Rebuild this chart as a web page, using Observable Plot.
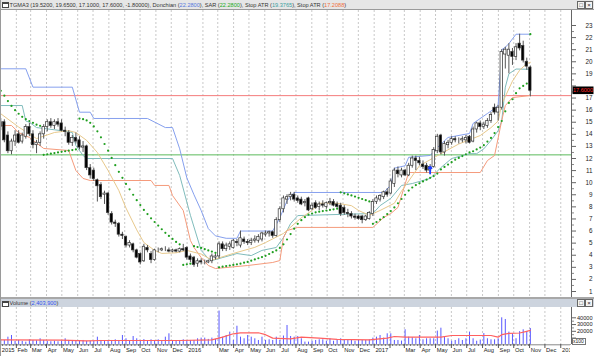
<!DOCTYPE html>
<html><head><meta charset="utf-8">
<script src="https://cdn.jsdelivr.net/npm/d3@7"></script>
<script src="https://cdn.jsdelivr.net/npm/@observablehq/plot@0.6"></script>
<style>
body{margin:0;background:#fff;font-family:"Liberation Sans",Arial,sans-serif;}
#wrap{position:relative;width:594px;height:356px;overflow:hidden;background:#fff;}
.abs{position:absolute;}
.hdr{left:0;width:594px;font-size:5.6px;color:#333;white-space:nowrap;}
.ico{position:absolute;width:5px;height:3px;border:1px solid #444;border-top-width:2px;background:#fff;}
.btn{position:absolute;width:6px;height:6px;border:1px solid #666;background:#f4f4f4;font-size:6px;line-height:6px;text-align:center;color:#222;}
svg{max-width:none;}
</style></head>
<body><div id="wrap">
<div class="abs hdr" style="top:0;height:9px;background:#e6e6e6;border-bottom:1px solid #9a9a9a;">
 <div class="ico" style="left:2px;top:2px;"></div>
 <span class="abs" style="left:9.5px;top:1.5px;">TGMA3 (19.5200, 19.6500, 17.1000, 17.6000, -1.80000), Donchian (<span style="color:#5577dd">22.2800</span>), SAR (<span style="color:#22aa22">22.2800</span>), Stop ATR (<span style="color:#3a9f9f">19.3765</span>), Stop ATR (<span style="color:#f07040">17.2088</span>)</span>
 <div class="btn" style="left:577px;top:1px;">&#9633;</div>
 <div class="btn" style="left:585px;top:1px;">&#215;</div>
</div>
<div id="price" class="abs" style="left:0;top:10px;"></div>
<div class="abs" style="left:0;top:297px;width:594px;height:2px;background:#a8a8a8;"></div>
<div class="abs hdr" style="top:299px;height:8px;background:#cdd4de;">
 <div class="ico" style="left:2px;top:2px;"></div>
 <span class="abs" style="left:9.5px;top:1px;">Volume (<span style="color:#3355ee">2,403,900</span>)</span>
 <div class="btn" style="left:577px;top:0px;">&#9633;</div>
 <div class="btn" style="left:585px;top:0px;">&#215;</div>
</div>
<div id="vol" class="abs" style="left:0;top:307px;"></div>
<div class="abs" style="left:570px;top:345px;width:24px;height:11px;background:#fff;"></div>
<div class="abs" style="left:572px;top:338px;width:12px;height:5px;border:1px solid #777;background:#fff;font-size:5px;line-height:5px;overflow:hidden;white-space:nowrap;color:#222;">x100</div>
<div class="abs" style="left:0;top:0;width:1px;height:356px;background:#9a9a9a;"></div>
</div>
<script>
// ---------- DATA (weekly, first week starting Monday 2014-12-29) ----------
const firstWeek = "2014-12-29";
const open  = [14.6,15.0,13.9,12.6,13.4,14.0,13.4,13.8,14.6,14.0, 13.1,13.3,14.0,14.6,15.0,14.7,15.0,14.9,14.3,14.1, 13.3,13.7,13.5,12.9,13.0,11.2,11.0,10.2,9.8,9.0, 9.1,7.4,6.7,6.6,5.7,5.5,4.8,4.9,4.4,4.1, 3.5,4.6,4.1,3.6,4.4,4.4,4.5,4.4,4.3,4.4, 4.3,4.5,4.6,3.9,3.8,3.3,3.5,3.4,3.4,3.5, 3.8,3.9,4.9,4.5,4.7,4.6,5.1,4.8,5.3,5.1, 5.0,5.2,5.2,5.3,5.7,5.8,5.9,5.6,6.9,7.8, 8.6,8.8,9.0,8.7,8.6,8.3,8.7,7.8,8.3,8.0, 8.2,8.0,8.3,8.4,8.2,8.1,7.9,7.5,7.4,7.2, 7.2,7.2,6.9,7.0,7.4,8.4,8.6,8.8,9.2,9.1, 9.9,11.0,10.6,11.0,10.6,11.4,12.0,11.8,11.5,11.4, 11.0,11.3,12.6,13.9,12.5,13.1,13.3,13.6,13.5,13.5, 13.5,13.8,13.4,14.4,14.9,14.6,14.7,15.1,16.2,15.8, 16.2,20.6,20.5,20.8,20.4,21.5,21.3,20.0,19.52];
const high  = [15.3,15.2,14.2,13.6,14.3,14.3,14.1,14.8,14.9,14.3, 13.5,14.2,14.8,15.2,15.3,15.2,15.3,15.2,14.6,14.3, 13.9,14.1,13.8,13.4,13.1,11.5,11.2,10.3,10.0,9.3, 9.2,7.6,6.9,6.7,5.9,5.6,5.2,5.0,4.5,4.2, 4.9,4.8,4.3,4.5,4.6,4.6,4.7,4.6,4.5,4.5, 4.6,4.9,4.7,4.1,3.9,3.7,3.7,3.6,3.6,4.1, 4.1,5.1,5.1,5.0,5.1,5.3,5.3,6.0,5.5,5.3, 5.4,5.6,5.7,5.9,6.0,6.0,6.0,7.1,8.0,8.9, 9.0,9.2,9.2,8.9,8.8,8.6,8.8,8.3,8.5,8.4, 8.5,8.4,8.7,8.6,8.4,8.3,8.1,7.8,7.6,7.4, 7.3,7.3,7.3,7.6,8.6,8.9,9.0,9.3,9.5,10.3, 11.2,11.3,11.2,11.1,11.6,12.2,12.2,12.1,11.8,11.6, 11.5,12.9,14.0,14.0,13.4,13.5,13.8,13.8,13.7,13.8, 13.9,13.9,14.6,15.0,15.1,15.0,15.3,15.8,16.5,16.4, 21.0,21.2,21.5,21.1,21.5,22.28,21.7,20.3,19.65];
const low   = [14.3,13.3,12.4,12.3,13.0,13.2,13.2,13.6,13.8,12.8, 12.4,13.0,13.6,14.2,14.5,14.4,14.6,14.2,13.8,13.1, 13.0,13.2,12.7,12.5,11.0,10.3,10.1,8.4,8.6,8.2, 7.3,6.5,6.3,5.5,5.3,4.6,4.6,4.2,3.7,3.2, 3.4,4.2,3.3,3.5,4.2,4.3,4.3,4.2,4.2,4.2, 4.2,4.3,3.6,3.4,3.0,3.0,3.2,3.2,3.3,3.3, 3.6,3.7,4.3,4.3,4.4,4.5,4.7,4.6,4.9,4.8, 4.8,5.0,5.0,5.1,5.5,5.5,5.4,5.5,6.7,7.5, 8.2,8.5,8.4,8.3,8.1,8.0,7.6,7.7,7.8,7.7, 7.9,7.8,8.1,8.0,7.9,7.2,7.3,7.1,7.0,6.9, 6.9,6.6,6.8,6.9,7.2,8.2,8.4,8.6,8.8,9.0, 9.6,10.4,10.4,10.5,10.5,11.2,11.0,11.4,11.1,10.8, 10.7,11.2,12.4,12.3,12.2,12.8,13.1,13.3,13.2,13.3, 13.2,13.2,13.3,14.1,14.3,14.4,14.5,14.9,15.6,15.1, 16.0,19.4,19.0,19.7,20.1,20.9,19.9,19.3,17.1];
const close = [15.0,13.5,12.6,13.4,13.9,13.3,13.9,14.6,14.0,13.1, 13.3,14.0,14.6,15.0,14.7,15.0,14.8,14.3,14.2,13.3, 13.7,13.4,12.9,13.0,11.2,10.6,10.3,9.7,8.8,9.1, 7.5,6.7,6.6,5.7,5.6,4.8,5.0,4.4,3.8,3.4, 4.7,4.4,3.6,4.4,4.4,4.5,4.5,4.3,4.4,4.3, 4.5,4.4,3.8,3.6,3.2,3.5,3.4,3.4,3.5,3.9, 3.9,4.9,4.5,4.8,4.9,5.2,5.0,5.4,5.1,5.0, 5.2,5.3,5.5,5.8,5.8,5.9,5.6,6.9,7.8,8.7, 8.8,9.0,8.6,8.5,8.2,8.4,7.7,8.1,7.9,8.2, 8.1,8.3,8.4,8.1,8.0,7.4,7.5,7.4,7.2,7.1, 7.0,6.9,7.2,7.5,8.4,8.7,8.9,9.2,9.0,10.1, 11.0,10.7,11.0,10.6,11.4,12.0,11.8,11.6,11.3,11.0, 11.3,12.7,13.8,12.5,13.2,13.3,13.6,13.5,13.5,13.6, 13.7,13.3,14.4,14.9,14.6,14.8,15.1,15.6,15.8,16.2, 20.8,21.0,21.0,20.4,21.2,21.1,20.1,19.6,17.6];
const volume = [7000,6400,11300,13800,4900,6400,5000,3900,7400,6400, 6000,8900,6400,5000,4500,5200,4500,5500,8900,6400, 6400,5000,5300,6400,5000,5200,5000,11300,6400,5000, 6400,6400,7400,6400,13800,8900,5500,12300,8900,6400, 7700,5000,7400,6400,7400,6400,11300,16300,6400,5300, 6400,7400,6400,6400,6400,8900,9900,9900,8000,9900, 8000,50000,11300,13800,18800,6400,27500,11300,8900,13800, 11300,8900,6400,11300,6400,7400,6400,11300,6400,13000, 28600,12300,11300,12300,8900,4000,4000,5300,6400,7400, 7400,5300,8900,5300,7400,8900,6400,7400,7400,5300, 6400,6400,6400,7400,9900,11300,13800,9900,16300,16300, 6400,6400,5500,22300,11300,10500,8900,13800,7400,8900, 8900,8900,20300,24600,11300,8900,5300,6400,8900,6400, 8900,18800,8900,5300,7000,16600,8900,7400,7400,8900, 40000,37500,18800,16300,9000,19500,22200,20000,24039];
const sar = [17.6,17.2,16.75,16.35,16.0,15.7,15.45,15.25,15.1,14.95, 14.8,14.7,12.3,12.35,12.4,12.45,12.5,12.55,12.6,12.65, 12.7,12.75,15.3,15.25,15.15,14.95,14.65,14.25,13.75,13.2, 12.65,12.05,11.45,10.9,10.4,9.9,9.45,9.0,8.55,8.15, 7.75,7.4,7.05,6.75,6.45,6.15,5.85,5.6,5.35,5.1, 4.9,3.2,3.25,3.3,4.75,4.68,4.6,4.5,4.4,4.3, 4.2,3.0,3.05,3.1,3.15,3.2,3.25,3.3,3.38,3.45, 3.55,3.65,3.75,3.85,3.95,4.1,4.25,4.4,4.6,4.9, 5.3,5.75,6.2,6.6,6.9,7.15,7.35,7.45,7.55,7.6, 7.65,7.7,7.75,7.8,7.85,9.2,9.12,9.03,8.95,8.85, 8.75,8.65,8.55,8.45,6.6,6.75,6.95,7.15,7.4,7.65, 7.95,8.3,8.65,9.0,9.35,9.6,9.8,9.95,10.1,10.25, 10.4,10.55,10.75,11.1,11.3,11.5,11.7,11.9,12.05,12.2, 12.35,12.5,12.6,12.75,12.9,13.1,13.4,13.7,14.1,14.6, 15.1,15.9,16.6,16.9,17.4,17.8,18.0,18.2,22.28];
// indicator lines: [week index, value]
const donchian = [[0,19.42],[7,19.42],[9,17.9],[20,17.9],[22,15.83],[25,15.83],[26,15.31],[41,15.31],[46,14.56],[48,14.56],[50,12.8],[52,10.4],[54,9.0],[56,7.7],[58,6.2],[60,5.6],[63,5.4],[66,5.4],[67,6.0],[76,6.0],[78,7.1],[80,8.5],[82,9.19],[107,9.19],[109,9.8],[110,11.2],[113,11.4],[114,12.1],[120,12.25],[122,12.9],[125,13.74],[131,14.07],[132,14.9],[136,15.72],[138,16.13],[139,16.4],[140,21.0],[141,21.2],[142,21.5],[144,22.28],[148,22.28]];
const stopAtr1 = [[0,16.38],[6,16.38],[7,15.1],[8,15.0],[10,14.56],[17,14.3],[20,14.15],[21,13.07],[23,12.25],[24,12.0],[48,12.0],[50,10.6],[53,7.3],[56,4.4],[58,3.73],[59,3.56],[66,4.14],[70,3.97],[73,4.4],[77,4.64],[79,5.46],[81,6.62],[83,7.28],[104,7.45],[106,8.1],[109,8.7],[112,9.77],[115,9.93],[120,10.35],[123,11.25],[126,12.0],[131,12.4],[133,12.4],[135,12.8],[137,13.5],[139,14.3],[140,15.1],[141,17.9],[142,19.0],[144,19.4],[148,19.3765]];
const stopAtr2 = [[0,14.73],[3,14.73],[5,14.15],[8,13.74],[12,12.83],[19,12.66],[21,11.0],[23,10.35],[25,10.18],[42,10.18],[43,9.77],[47,9.77],[48,8.94],[51,7.7],[53,5.22],[54,4.64],[56,3.81],[58,3.15],[60,2.9],[69,3.15],[76,3.4],[78,3.56],[79,5.46],[80,6.04],[83,6.3],[104,6.3],[107,7.12],[109,7.45],[111,7.95],[114,10.84],[134,10.84],[136,11.83],[138,12.25],[140,15.14],[141,16.38],[143,17.04],[148,17.2088]];
const movingAvg = [[0,15.7],[5,14.6],[10,13.65],[15,14.15],[19,14.3],[21,14.15],[24,13.5],[27,12.5],[30,11.0],[33,9.35],[35,7.9],[38,6.1],[40,5.05],[43,4.4],[45,4.15],[49,4.2],[52,4.4],[56,4.1],[59,3.6],[65,4.15],[71,4.65],[74,5.05],[79,5.8],[84,7.1],[87,7.7],[89,8.3],[94,8.3],[98,8.1],[100,7.7],[103,7.3],[106,7.7],[110,8.3],[112,9.3],[117,11.4],[123,12.4],[128,13.2],[134,13.9],[137,14.55],[139,15.1],[140,16.5],[143,18.4],[145,19.3],[147,19.85],[148,19.95]];
const volumeAvg = [[0,7400],[17,7000],[24,5800],[28,6400],[50,6400],[59,7400],[62,11300],[65,16300],[67,17800],[72,17800],[74,15000],[76,9900],[81,8900],[84,11300],[89,10000],[94,8000],[103,7400],[108,9900],[110,12300],[113,11300],[123,11300],[126,13800],[137,13800],[139,11300],[140,15000],[142,17000],[145,17500],[147,20000],[148,21500]];
const levelGreen = [12.3], levelRed = [17.2];
const lastClose = 17.6, lastLabel = "17.6000";
const signalUp = [[120,10.75]];
const priceTicks = [1,2,3,4,5,6,7,8,9,10,11,12,13,14,15,16,17,18,19,20,21,22,23];
const priceLabels = [1,2,3,4,5,6,7,8,9,10,11,12,13,14,15,16,17,19,20,21,22,23]; // 18 is hidden by the last-price box
const volTicks = [10000,20000,30000,40000];
const volLabels = [20000,30000,40000]; // 10000 is hidden by the multiplier box
const monthLabels = ["2015","Feb","Mar","Apr","May","Jun","Jul","Aug","Sep","Oct","Nov","Dec","2016","","Mar","Apr","May","Jun","Jul","Aug","Sep","Oct","Nov","Dec","2017","","Mar","Apr","May","Jun","Jul","Aug","Sep","Oct","Nov","Dec","2018"];

// ---------- build ----------
const DAY = 864e5;
const weeks = d3.utcMonday.range(new Date(firstWeek), d3.utcMonday.offset(new Date(firstWeek), open.length));
const mid = i => new Date(+weeks[i] + 3.5*DAY);
const candles = weeks.map((d,i)=>({start:d, end:d3.utcMonday.offset(d,1), mid:mid(i), open:open[i], high:high[i], low:low[i], close:close[i], volume:volume[i], sar:sar[i]}));
const months = d3.utcMonth.range(new Date("2015-01-01"), new Date("2018-02-01"));
const monthTicks = months.map((d,i)=>({date:d, label:monthLabels[i]}));
const xDomain = [new Date("2015-01-01"), new Date("2018-01-22")];
const xr = [0, 571];
const pt = d => ({x: mid(d[0]), y: d[1]});
const font = {fontFamily:"Liberation Sans, Arial, sans-serif", fontSize:"6px", background:"transparent", overflow:"visible"};

const price = Plot.plot({
  width:594, height:287, marginTop:0, marginBottom:0, marginLeft:0, marginRight:23,
  style:font,
  x:{type:"utc", domain:xDomain, range:xr, axis:null},
  y:{domain:[1,23], range:[281,15], axis:null},
  marks:[
    Plot.ruleX(months, {stroke:"#c8c8c8", strokeDasharray:"2,2"}),
    Plot.ruleY(levelGreen, {stroke:"#5cbb5c"}),
    Plot.ruleY(levelRed, {stroke:"#f47c7c"}),
    Plot.line(donchian.map(pt), {x:"x", y:"y", stroke:"#86a0ee", strokeWidth:1}),
    Plot.line(stopAtr1.map(pt), {x:"x", y:"y", stroke:"#80bcbc", strokeWidth:1}),
    Plot.line(stopAtr2.map(pt), {x:"x", y:"y", stroke:"#f59b7c", strokeWidth:1}),
    Plot.line(movingAvg.map(pt), {x:"x", y:"y", stroke:"#e8c98c", strokeWidth:1}),
    Plot.ruleX(candles, {x:"mid", y1:"low", y2:"high", stroke:"#555", strokeWidth:1}),
    Plot.rect(candles, {x1:"start", x2:"end", y1:"open", y2:"close", insetLeft:0.6, insetRight:0.6,
      fill:d=>d.close>=d.open?"#fff":"#000", stroke:"#333", strokeWidth:0.7}),
    Plot.dot(candles, {x:"mid", y:"sar", r:1.1, fill:"#1f9f1f", stroke:null}),
    Plot.vector(signalUp.map(pt), {x:"x", y:"y", length:7, rotate:0, anchor:"start", stroke:"#2040ff", strokeWidth:1.8}),
    Plot.ruleX([xDomain[1]], {stroke:"#666"}),
    Plot.axisY(priceTicks, {anchor:"right", tickSize:4, tickFormat:()=>"", stroke:"#666"}),
    Plot.axisY(priceTicks.map(v=>v+0.5).filter(v=>v<23), {anchor:"right", tickSize:2, tickFormat:()=>"", stroke:"#888"}),
    Plot.text(priceLabels, {y:d=>d, text:d=>String(d), frameAnchor:"right", dx:21, textAnchor:"end", fill:"#222", fontSize:6.3})
  ]
});
document.getElementById("price").appendChild(price);
// last price marker on the right axis
{
  const yy = price.scale("y").apply(lastClose);
  const g = d3.select(price).append("g");
  g.append("rect").attr("x",572.5).attr("y",yy-3.8).attr("width",21).attr("height",7.6).attr("fill","#000");
  g.append("text").attr("x",583).attr("y",yy+2).attr("text-anchor","middle").attr("fill","#ff2a2a")
    .attr("font-size","5.6px").text(lastLabel);
}

const vol = Plot.plot({
  width:594, height:49, marginTop:0, marginBottom:12, marginLeft:0, marginRight:23,
  style:font,
  x:{type:"utc", domain:xDomain, range:xr, axis:null},
  y:{domain:[0,40000], range:[37.3,10.3], axis:null},
  marks:[
    Plot.ruleX(months, {stroke:"#c8c8c8", strokeDasharray:"2,2"}),
    Plot.ruleX(candles, {x:"mid", y1:0, y2:"volume", stroke:"#5858ff", strokeWidth:1}),
    Plot.line(volumeAvg.map(pt), {x:"x", y:"y", stroke:"#ff6060", strokeWidth:1.2}),
    Plot.ruleY([0], {stroke:"#888"}),
    Plot.ruleX([xDomain[1]], {stroke:"#666"}),
    Plot.axisX(weeks, {anchor:"bottom", tickSize:2, tickFormat:()=>"", stroke:"#777"}),
    Plot.axisX(months, {anchor:"bottom", tickSize:4, tickFormat:()=>"", stroke:"#555"}),
    Plot.text(monthTicks, {x:"date", text:"label", frameAnchor:"bottom", dy:7.5, dx:1.2, textAnchor:"start", fill:"#222", fontSize:5.8}),
    Plot.axisY(volTicks, {anchor:"right", tickSize:4, tickFormat:()=>"", stroke:"#666"}),
    Plot.axisY(volTicks.map(v=>v-5000), {anchor:"right", tickSize:2, tickFormat:()=>"", stroke:"#888"}),
    Plot.text(volLabels, {y:d=>d, text:d=>String(d), frameAnchor:"right", dx:21, textAnchor:"end", fill:"#222", fontSize:5.6})
  ]
});
document.getElementById("vol").appendChild(vol);
</script>
</body></html>
